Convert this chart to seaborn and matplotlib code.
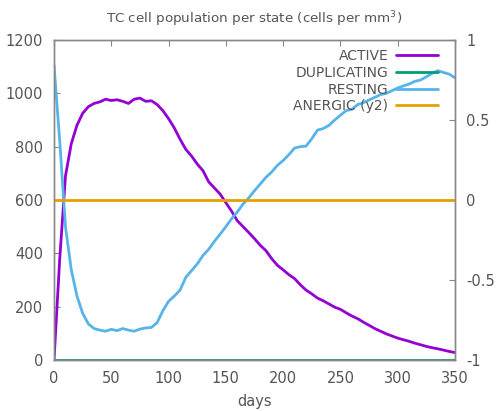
import matplotlib
matplotlib.use("Agg")
import matplotlib.pyplot as plt
import seaborn as sns
import pandas as pd
import numpy as np

days = list(range(0, 351, 5))
active = [0, 380, 690, 810, 880, 925, 950, 962, 968, 978, 973, 976, 970, 962, 978, 982,
          970, 972, 958, 935, 905, 870, 828, 790, 765, 735, 710, 668, 645, 622, 590, 558,
          522, 500, 478, 455, 430, 410, 380, 355, 338, 320, 305, 282, 262, 248, 232, 222,
          210, 198, 190, 177, 165, 155, 142, 130, 118, 108, 98, 90, 82, 76, 70, 63, 57,
          51, 46, 42, 37, 32, 28]
resting = [1105, 820, 500, 340, 240, 175, 135, 118, 112, 108, 115, 110, 118, 112, 108, 116,
           120, 122, 140, 185, 220, 240, 262, 310, 335, 360, 392, 415, 445, 472, 500, 530,
           555, 585, 608, 635, 660, 685, 705, 730, 748, 770, 795, 800, 802, 830, 862, 868,
           880, 900, 918, 935, 940, 958, 965, 975, 985, 995, 1000, 1010, 1020, 1028, 1035,
           1045, 1050, 1062, 1075, 1085, 1078, 1072, 1058]
duplicating = [0] * len(days)
anergic = [0] * len(days)

labels = ["ACTIVE", "DUPLICATING", "RESTING", "ANERGIC (y2)"]
colors = ["#9400d3", "#009e73", "#56b4e9", "#e69f00"]

sns.set_style("white")
plt.rcParams['font.family'] = ['DejaVu Sans']
plt.rcParams['axes.unicode_minus'] = False
txt = "#555555"

df = pd.DataFrame({"days": days, "ACTIVE": active, "DUPLICATING": duplicating,
                   "RESTING": resting, "ANERGIC": anergic})

fig = plt.figure(figsize=(4.97, 4.11), dpi=100)
ax = fig.add_axes([0.1087, 0.1241, 0.8068, 0.7786])
ax2 = ax.twinx()

sns.lineplot(data=df, x="days", y="ACTIVE", ax=ax, color=colors[0], lw=2, label=labels[0], legend=False)
sns.lineplot(data=df, x="days", y="DUPLICATING", ax=ax, color=colors[1], lw=2, label=labels[1], legend=False)
sns.lineplot(data=df, x="days", y="RESTING", ax=ax, color=colors[2], lw=2, label=labels[2], legend=False)
sns.lineplot(data=df, x="days", y="ANERGIC", ax=ax2, color=colors[3], lw=2, label=labels[3], legend=False)

ax.set_xlim(0, 350)
ax.set_ylim(0, 1200)
ax2.set_ylim(-1, 1)
ax.set_xticks(range(0, 351, 50))
ax.set_yticks(range(0, 1201, 200))
ax2.set_yticks([-1, -0.5, 0, 0.5, 1])
ax2.set_yticklabels(["-1", "-0.5", "0", "0.5", "1"])

ax.set_xlabel("days", color=txt, fontsize=10.5, labelpad=6)
ax.set_ylabel("")
ax2.set_ylabel("")
ax.set_title("TC cell population per state (cells per mm$^3$)", color=txt, fontsize=9.7, pad=12)

for a in (ax, ax2):
    for s in a.spines.values():
        s.set_color("#888888")
        s.set_linewidth(1.0)
ax.tick_params(axis="x", direction="in", length=4, color="#888888", labelcolor=txt,
               labelsize=10.5, pad=8, top=True)
ax.tick_params(axis="y", direction="in", length=4, color="#888888", labelcolor=txt,
               labelsize=10.5, pad=8, right=False)
ax2.tick_params(axis="y", direction="in", length=4, color="#888888", labelcolor=txt,
                labelsize=10.5, pad=8)

h1, l1 = ax.get_legend_handles_labels()
h2, l2 = ax2.get_legend_handles_labels()
leg = ax2.legend(h1 + h2, l1 + l2, loc="upper right", bbox_to_anchor=(0.958, 0.972),
                 frameon=False, markerfirst=False,
                 fontsize=10, labelcolor=txt, handlelength=3.0, labelspacing=0.2,
                 borderaxespad=0.0, borderpad=0.0, handletextpad=0.6)
for t in leg.get_texts():
    t.set_ha("right")
leg._legend_box.align = "right"

fig.savefig("out.png", dpi=100)
